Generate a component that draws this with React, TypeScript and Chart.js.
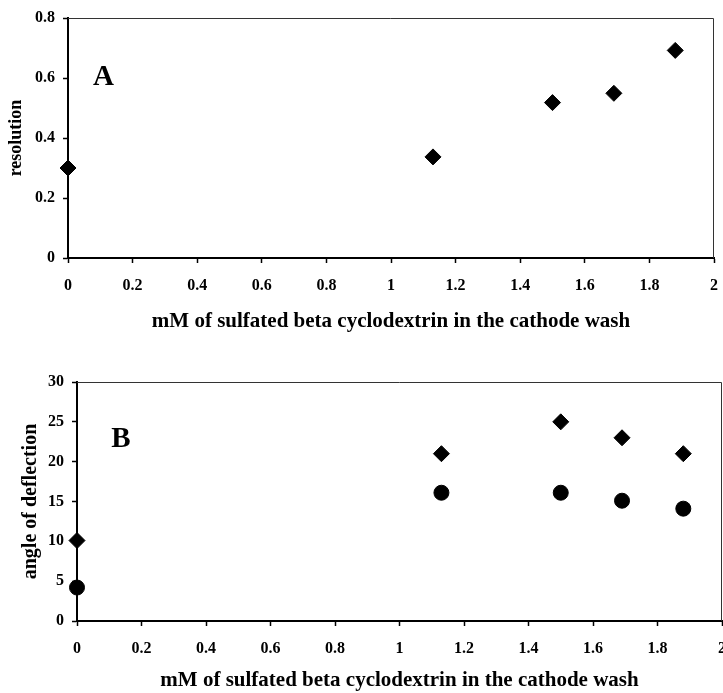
import React, { useEffect, useRef } from 'react';
import { Chart, registerables } from 'chart.js';

Chart.register(...registerables);

const FONT = '"Liberation Serif", "Times New Roman", serif';

const xTickValues = [0, 0.2, 0.4, 0.6, 0.8, 1, 1.2, 1.4, 1.6, 1.8, 2];
const xTickLabels = ['0', '0.2', '0.4', '0.6', '0.8', '1', '1.2', '1.4', '1.6', '1.8', '2'];
const xTitle = 'mM of sulfated beta cyclodextrin in the cathode wash';

// Panel A
const resolutionX = [0, 1.13, 1.5, 1.69, 1.88];
const resolutionY = [0.3, 0.337, 0.518, 0.549, 0.692];
const resolutionTicks = [0, 0.2, 0.4, 0.6, 0.8];
const resolutionTickLabels = ['0', '0.2', '0.4', '0.6', '0.8'];
const resolutionTitle = 'resolution';

// Panel B
const angleX = [0, 1.13, 1.5, 1.69, 1.88];
const angleDiamondY = [10.1, 21, 25, 23, 21];
const angleCircleY = [4.2, 16.1, 16.1, 15.1, 14.1];
const angleTicks = [0, 5, 10, 15, 20, 25, 30];
const angleTickLabels = ['0', '5', '10', '15', '20', '25', '30'];
const angleTitle = 'angle of deflection';

const labelA = { text: 'A', x: 0.11, y: 0.6 };
const labelB = { text: 'B', x: 0.136, y: 22.8 };

function toPoints(xs: number[], ys: number[]) {
  return xs.map((x, i) => ({ x, y: ys[i] }));
}

function makeXScale(height: number, titlePadBottom: number) {
  return {
    type: 'linear',
    min: 0,
    max: 2,
    afterBuildTicks: (s: any) => {
      s.ticks = xTickValues.map((v) => ({ value: v }));
    },
    afterFit: (s: any) => {
      s.height = height;
      s.paddingLeft = 0;
      s.paddingRight = 0;
    },
    border: { display: true, color: '#000', width: 2 },
    grid: {
      display: true,
      drawOnChartArea: false,
      drawTicks: true,
      tickLength: 5,
      tickColor: '#000',
      tickWidth: 1.5,
    },
    ticks: {
      color: '#000',
      font: { family: FONT, size: 16, weight: 'bold' },
      padding: 13,
      maxRotation: 0,
      autoSkip: false,
      callback: (_v: any, i: number) => xTickLabels[i],
    },
    title: {
      display: true,
      text: xTitle,
      color: '#000',
      font: { family: FONT, size: 21, weight: 'bold', lineHeight: 1.2 },
      padding: { top: 0, bottom: titlePadBottom },
    },
  };
}

function makeYScale(
  width: number,
  min: number,
  max: number,
  tickValues: number[],
  tickLabels: string[],
  title: string,
  titleSize: number,
  titlePadTop: number
) {
  return {
    type: 'linear',
    min,
    max,
    afterBuildTicks: (s: any) => {
      s.ticks = tickValues.map((v) => ({ value: v }));
    },
    afterFit: (s: any) => {
      s.width = width;
      s.paddingTop = 0;
      s.paddingBottom = 0;
    },
    border: { display: true, color: '#000', width: 2 },
    grid: {
      display: true,
      drawOnChartArea: false,
      drawTicks: true,
      tickLength: 5,
      tickColor: '#000',
      tickWidth: 1.5,
    },
    ticks: {
      color: '#000',
      font: { family: FONT, size: 16, weight: 'bold' },
      padding: 8,
      callback: (_v: any, i: number) => tickLabels[i],
    },
    title: {
      display: true,
      text: title,
      color: '#000',
      font: { family: FONT, size: titleSize, weight: 'bold', lineHeight: 1.2 },
      padding: { top: titlePadTop, bottom: 0 },
    },
  };
}

function framePlugin() {
  return {
    id: 'frame',
    afterDraw(chart: any) {
      const { ctx, chartArea } = chart;
      const { left, right, top, bottom } = chartArea;
      ctx.save();
      ctx.strokeStyle = '#333';
      ctx.lineWidth = 1;
      ctx.beginPath();
      ctx.moveTo(left, top + 0.5);
      ctx.lineTo(right - 0.5, top + 0.5);
      ctx.lineTo(right - 0.5, bottom);
      ctx.stroke();
      ctx.restore();
    },
  };
}

function panelLabelPlugin(label: { text: string; x: number; y: number }) {
  return {
    id: 'panelLabel',
    afterDraw(chart: any) {
      const { ctx } = chart;
      const px = chart.scales.x.getPixelForValue(label.x);
      const py = chart.scales.y.getPixelForValue(label.y);
      ctx.save();
      ctx.fillStyle = '#000';
      ctx.font = `bold 29px ${FONT}`;
      ctx.textAlign = 'center';
      ctx.textBaseline = 'middle';
      ctx.fillText(label.text, px, py);
      ctx.restore();
    },
  };
}

const diamondStyle = {
  pointStyle: 'rectRot',
  pointRadius: 8,
  pointBorderWidth: 1,
  backgroundColor: '#000',
  borderColor: '#000',
  showLine: false,
  clip: false,
};

const circleStyle = {
  pointStyle: 'circle',
  pointRadius: 7.5,
  pointBorderWidth: 1,
  backgroundColor: '#000',
  borderColor: '#000',
  showLine: false,
  clip: false,
};

export default function App() {
  const topRef = useRef<HTMLCanvasElement | null>(null);
  const bottomRef = useRef<HTMLCanvasElement | null>(null);

  useEffect(() => {
    const charts: Chart[] = [];
    if (topRef.current) {
      charts.push(
        new Chart(topRef.current, {
          type: 'scatter',
          data: {
            datasets: [
              {
                label: 'resolution',
                data: toPoints(resolutionX, resolutionY),
                ...diamondStyle,
              } as any,
            ],
          },
          options: {
            responsive: false,
            animation: false,
            layout: { autoPadding: false, padding: { top: 18, right: 9, left: 0, bottom: 0 } },
            plugins: { legend: { display: false }, tooltip: { enabled: false } },
            scales: {
              x: makeXScale(87, 11) as any,
              y: makeYScale(68, 0, 0.8, resolutionTicks, resolutionTickLabels, resolutionTitle, 18, 6) as any,
            },
          } as any,
          plugins: [framePlugin(), panelLabelPlugin(labelA)],
        })
      );
    }
    if (bottomRef.current) {
      charts.push(
        new Chart(bottomRef.current, {
          type: 'scatter',
          data: {
            datasets: [
              {
                label: 'diamond',
                data: toPoints(angleX, angleDiamondY),
                ...diamondStyle,
              } as any,
              {
                label: 'circle',
                data: toPoints(angleX, angleCircleY),
                ...circleStyle,
              } as any,
            ],
          },
          options: {
            responsive: false,
            animation: false,
            layout: { autoPadding: false, padding: { top: 37, right: 1, left: 0, bottom: 0 } },
            plugins: { legend: { display: false }, tooltip: { enabled: false } },
            scales: {
              x: makeXScale(72, 0) as any,
              y: makeYScale(77, 0, 30, angleTicks, angleTickLabels, angleTitle, 20, 19) as any,
            },
          } as any,
          plugins: [framePlugin(), panelLabelPlugin(labelB)],
        })
      );
    }
    return () => {
      charts.forEach((c) => c.destroy());
    };
  }, []);

  return (
    <div
      style={{
        position: 'fixed',
        left: 0,
        top: 0,
        width: 723,
        height: 693,
        background: '#fff',
        overflow: 'hidden',
      }}
    >
      <canvas
        ref={topRef}
        width={723}
        height={345}
        style={{ position: 'absolute', left: 0, top: 0, width: 723, height: 345 }}
      />
      <canvas
        ref={bottomRef}
        width={723}
        height={348}
        style={{ position: 'absolute', left: 0, top: 345, width: 723, height: 348 }}
      />
    </div>
  );
}
